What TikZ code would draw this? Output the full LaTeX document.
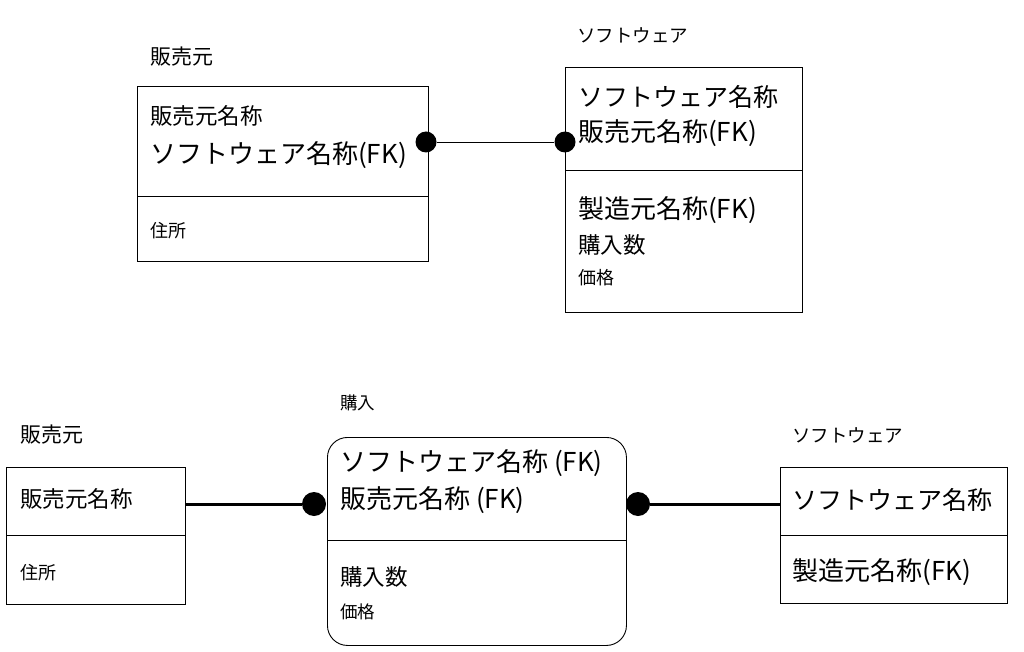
\documentclass[tikz,border=0pt]{standalone}
\usepackage{fontspec}
\setmainfont{Noto Sans CJK JP}
\usetikzlibrary{positioning,calc}
\newcommand{\fs}[1]{\fontsize{#1}{#1}\selectfont}
\tikzset{
	entity/.style={draw=black,line width=0.9pt,anchor=north west,inner sep=0pt},
	attr/.style={anchor=west,inner sep=0pt,font=\fs{#1}},
	attr/.default=22.5,
	dot/.style={circle,fill=black,inner sep=0pt,minimum size=#1},
	dot/.default=21,
}

\begin{document}
\begin{tikzpicture}[x=1pt,y=-1pt]
	\useasboundingbox (0,0) rectangle (1024,652);
	% upper diagram
	\node[entity,minimum width=291,minimum height=175] (hb1) at (137,86) {};
	\node[attr=21] (hb1t) at (150,57) {販売元};
	\node[attr] (hb1a) at (150,116) {販売元名称};
	\node[attr=26] (hb1b) at (150,155) {ソフトウェア名称(FK)};
	\coordinate (hb1s) at (0,196);
	\draw[line width=0.9pt] (hb1.west |- hb1s)--(hb1.east |- hb1s);
	\node[attr=18] (hb1c) at (150,231) {住所};
	
	\node[entity,minimum width=237,minimum height=245] (sw1) at (565,67) {};
	\node[attr=18.5] (sw1t) at (577,35) {ソフトウェア};
	\node[attr=25] (sw1a) at (578,97) {ソフトウェア名称};
	\node[attr=26] (sw1b) at (578,133) {販売元名称(FK)};
	\coordinate (sw1s) at (0,170);
	\draw[line width=0.9pt] (sw1.west |- sw1s)--(sw1.east |- sw1s);
	\node[attr=26] (sw1c) at (578,210) {製造元名称(FK)};
	\node[attr] (sw1d) at (578,245) {購入数};
	\node[attr=18] (sw1e) at (578,278) {価格};
	
	\node[dot] (d1) at (426,142) {};
	\node[dot] (d2) at (565,142) {};
	\draw[line width=0.9pt] (d1)--(d2);
	
	% lower diagram
	\node[entity,minimum width=179,minimum height=137] (hb2) at (6,467) {};
	\node[attr=21] (hb2t) at (20,435) {販売元};
	\node[attr] (hb2a) at (20,499) {販売元名称};
	\coordinate (hb2s) at (0,535);
	\draw[line width=0.9pt] (hb2.west |- hb2s)--(hb2.east |- hb2s);
	\node[attr=18] (hb2b) at (20,573) {住所};
	
	\node[entity,rounded corners=20pt,minimum width=299,minimum height=208] (kn) at (327,437) {};
	\node[attr=17.5] (knt) at (340,403) {購入};
	\node[attr=26] (kna) at (340,463) {ソフトウェア名称 (FK)};
	\node[attr=26] (knb) at (340,500) {販売元名称 (FK)};
	\coordinate (kns) at (0,540);
	\draw[line width=0.9pt] (kn.west |- kns)--(kn.east |- kns);
	\node[attr] (knc) at (340,577) {購入数};
	\node[attr=17.5] (knd) at (340,612) {価格};
	
	\node[entity,minimum width=227,minimum height=136] (sw2) at (780,467) {};
	\node[attr=18.5] (sw2t) at (792,435) {ソフトウェア};
	\node[attr=25] (sw2a) at (792,500) {ソフトウェア名称};
	\coordinate (sw2s) at (0,535);
	\draw[line width=0.9pt] (sw2.west |- sw2s)--(sw2.east |- sw2s);
	\node[attr=26] (sw2b) at (792,572) {製造元名称(FK)};
	
	\node[dot=24] (d3) at (314,504) {};
	\node[dot=24] (d4) at (638,504) {};
	\draw[line width=3pt] (hb2.east |- d3)--(d3);
	\draw[line width=3pt] (d4)--(sw2.west |- d4);
\end{tikzpicture}
\end{document}
